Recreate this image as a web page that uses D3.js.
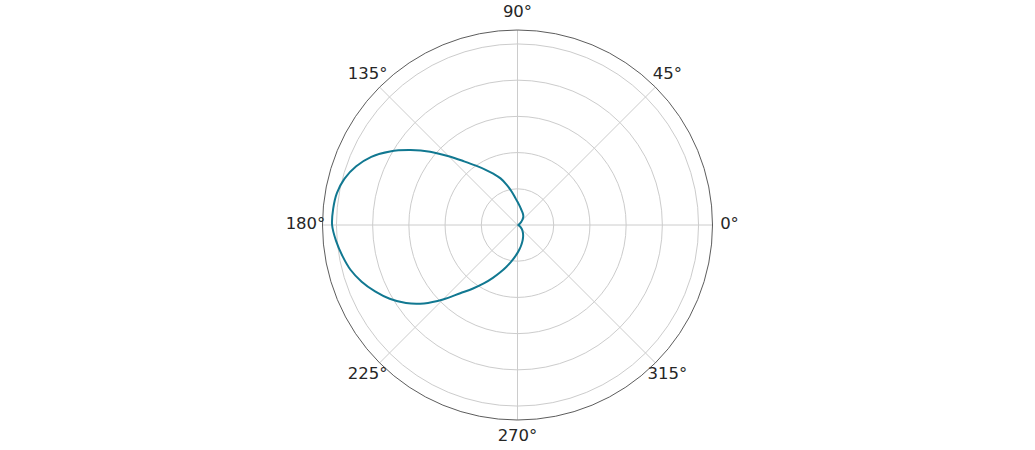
<!DOCTYPE html>
<html>
<head>
<meta charset="utf-8">
<script src="https://cdn.jsdelivr.net/npm/d3@7"></script>
<style>
  body { margin: 0; background: #fff; }
  text { font-family: "DejaVu Sans", sans-serif; }
</style>
</head>
<body>
<div id="chart"></div>
<script>
// angles in degrees (counter-clockwise from east) and radius
var angles = [0, 5, 10, 15, 20, 25, 30, 35, 40, 45, 50, 55,
              60, 65, 70, 75, 80, 85, 90, 95, 100, 105, 110, 115,
              120, 125, 130, 135, 140, 145, 150, 155, 160, 165, 170, 175,
              180, 185, 190, 195, 200, 205, 210, 215, 220, 225, 230, 235,
              240, 245, 250, 255, 260, 265, 270, 275, 280, 285, 290, 295,
              300, 305, 310, 315, 320, 325, 330, 335, 340, 345, 350, 355];
var radius = [0.004, 0.004, 0.005, 0.007, 0.009, 0.011, 0.014, 0.019, 0.027, 0.036, 0.046, 0.056,
              0.063, 0.070, 0.077, 0.085, 0.096, 0.110, 0.128, 0.152, 0.188, 0.230, 0.274, 0.311,
              0.352, 0.400, 0.459, 0.537, 0.630, 0.721, 0.813, 0.891, 0.948, 0.989, 1.013, 1.022,
              1.024, 1.006, 0.982, 0.955, 0.916, 0.868, 0.815, 0.752, 0.674, 0.582, 0.492, 0.428,
              0.373, 0.322, 0.278, 0.240, 0.207, 0.178, 0.154, 0.133, 0.115, 0.099, 0.085, 0.073,
              0.062, 0.052, 0.043, 0.035, 0.028, 0.021, 0.016, 0.012, 0.009, 0.007, 0.005, 0.004];

var ringTicks = [0.2, 0.4, 0.6, 0.8, 1.0];
var rMax = 1.077;
var thetaTicks = [0, 45, 90, 135, 180, 225, 270, 315];

var W = 1035, H = 450;
var cx = 517.5, cy = 225, outerR = 195, labelR = 212;

var svg = d3.select("#chart")
  .append("svg")
  .attr("width", W)
  .attr("height", H)
  .append("g")
  .attr("transform", "translate(" + cx + "," + cy + ")");

var r = d3.scaleLinear().domain([0, rMax]).range([0, outerR]);
var toRad = function(deg) { return deg * Math.PI / 180; };

// ring gridlines
svg.selectAll(".ring")
  .data(ringTicks)
  .enter().append("circle")
  .attr("class", "ring")
  .attr("r", function(d) { return r(d); })
  .style("fill", "none")
  .style("stroke", "#cccccc")
  .style("stroke-width", 1);

// spokes
svg.selectAll(".spoke")
  .data(thetaTicks)
  .enter().append("line")
  .attr("class", "spoke")
  .attr("x1", 0).attr("y1", 0)
  .attr("x2", function(d) { return r(rMax) * Math.cos(toRad(d)); })
  .attr("y2", function(d) { return -r(rMax) * Math.sin(toRad(d)); })
  .style("stroke", "#cccccc")
  .style("stroke-width", 1);

// outer frame
svg.append("circle")
  .attr("r", r(rMax))
  .style("fill", "none")
  .style("stroke", "#4a4a4a")
  .style("stroke-width", 0.9);

// the curve
var pts = angles.map(function(a, i) { return { a: a, v: radius[i] }; });
var line = d3.lineRadial()
  .angle(function(d) { return Math.PI / 2 - toRad(d.a); })
  .radius(function(d) { return r(d.v); })
  .curve(d3.curveCatmullRomClosed.alpha(0.5));

svg.append("path")
  .datum(pts)
  .attr("d", line)
  .style("fill", "none")
  .style("stroke", "#117891")
  .style("stroke-width", 2);

// angle labels
svg.selectAll(".tlabel")
  .data(thetaTicks)
  .enter().append("text")
  .attr("class", "tlabel")
  .attr("x", function(d) { return labelR * Math.cos(toRad(d)); })
  .attr("y", function(d) { return -labelR * Math.sin(toRad(d)); })
  .attr("dy", "0.26em")
  .attr("text-anchor", "middle")
  .style("font-size", "16.5px")
  .style("fill", "#262626")
  .text(function(d) { return d + "°"; });
</script>
</body>
</html>
